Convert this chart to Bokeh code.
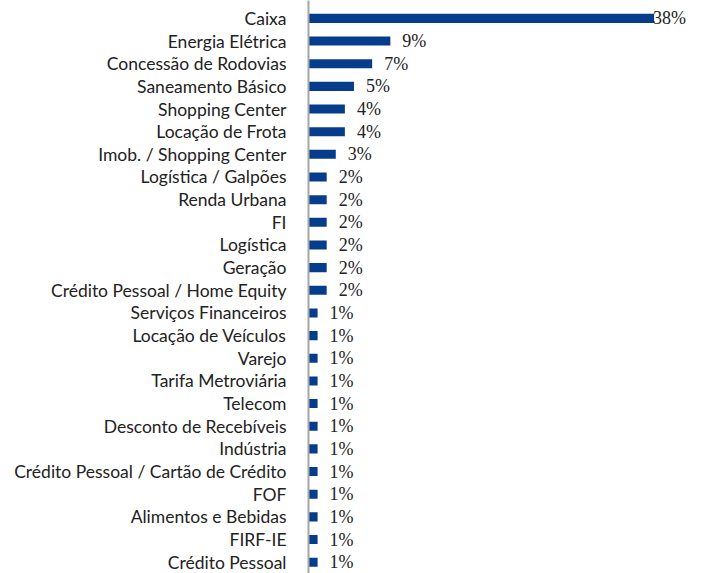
from bokeh.plotting import figure
from bokeh.models import ColumnDataSource, Range1d, FixedTicker, LabelSet
from bokeh.embed import file_html
from bokeh.resources import INLINE

categories = [
    "Caixa", "Energia Elétrica", "Concessão de Rodovias", "Saneamento Básico",
    "Shopping Center", "Locação de Frota", "Imob. / Shopping Center",
    "Logística / Galpões", "Renda Urbana", "FI", "Logística", "Geração",
    "Crédito Pessoal / Home Equity", "Serviços Financeiros", "Locação de Veículos",
    "Varejo", "Tarifa Metroviária", "Telecom", "Desconto de Recebíveis",
    "Indústria", "Crédito Pessoal / Cartão de Crédito", "FOF",
    "Alimentos e Bebidas", "FIRF-IE", "Crédito Pessoal",
]
values = [38, 9, 7, 5, 4, 4, 3, 2, 2, 2, 2, 2, 2, 1, 1, 1, 1, 1, 1, 1, 1, 1, 1, 1, 1]
value_labels = [f"{v}%" for v in values]

idx = list(range(len(categories)))
offsets = [-1 if v > 30 else 12 for v in values]

src = ColumnDataSource(dict(y=idx, v=values, lab=value_labels, off=offsets))

W, H = 710, 573
p = figure(width=W, height=H, output_backend="svg", toolbar_location=None,
           x_range=Range1d(0, 44.2), y_range=Range1d(24.5, -0.79),
           min_border_left=308, min_border_right=0, min_border_top=0,
           min_border_bottom=0)

p.hbar(y="y", right="v", left=0, height=0.4, source=src,
       fill_color="#063c8c", line_color=None)

labels = LabelSet(x="v", y="y", text="lab", x_offset="off", source=src,
                  text_baseline="middle", text_align="left",
                  text_font="DejaVu Sans", text_font_size="18px",
                  text_color="#222222")
p.add_layout(labels)

p.xaxis.visible = False
p.yaxis.ticker = FixedTicker(ticks=idx)
p.yaxis.major_label_overrides = {i: c for i, c in zip(idx, categories)}
p.yaxis.major_label_text_font = "Lato"
p.yaxis.major_label_text_font_size = "17.5px"
p.yaxis.major_label_text_color = "#222222"
p.yaxis.major_label_standoff = 16
p.yaxis.major_tick_line_color = None
p.yaxis.minor_tick_line_color = None
p.yaxis.axis_line_color = "#a6a6a6"
p.yaxis.axis_line_width = 2
p.xgrid.visible = False
p.ygrid.visible = False
p.outline_line_color = None
p.background_fill_color = "white"
p.border_fill_color = "white"

open("out.html", "w").write(file_html(p, INLINE))
